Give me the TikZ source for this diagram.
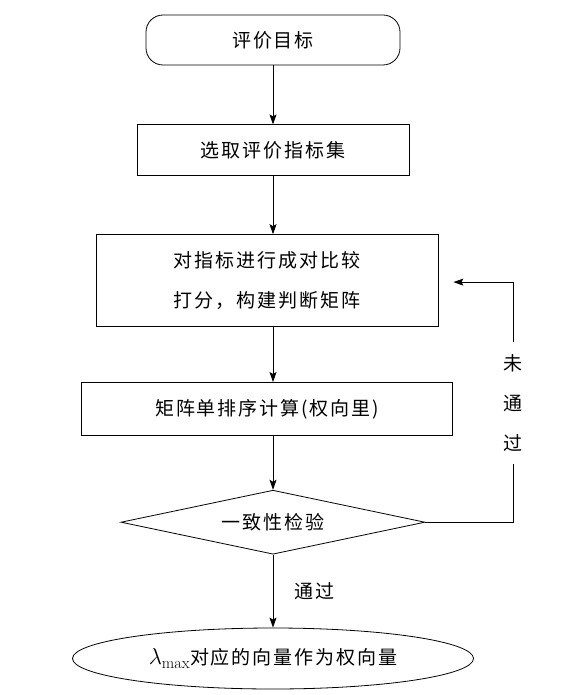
\RequirePackage{fix-cm}
\documentclass[tikz,border=0pt]{standalone}
\usepackage{fontspec}
\usepackage{tikz}
\usetikzlibrary{shapes.geometric, arrows.meta, positioning, calc}
\newfontfamily\cjk[LetterSpace=10]{Noto Sans CJK SC}

\begin{document}
\begin{tikzpicture}[
  font=\cjk\fontsize{19pt}{40pt}\selectfont, node distance=57pt,
  st/.style={draw, line width=0.8pt, minimum height=51pt, inner sep=0pt, align=center},
  start/.style={st, rounded corners=17pt, minimum width=254pt, minimum height=50pt},
  cond/.style={st, diamond, aspect=4.75, minimum width=304pt, minimum height=64pt},
  stop/.style={st, ellipse, minimum width=401pt, minimum height=61pt},
  arr/.style={-{Stealth[length=10pt, width=7pt, inset=2pt]}, line width=0.8pt},
  line/.style={line width=0.8pt},
]
\useasboundingbox (0,0) rectangle (566pt,-695pt);

\node[start] (goal) at (273pt,-40pt) {评价目标};
\node[st, minimum width=272pt, below=59pt of goal] (index) {选取评价指标集};
\node[st, minimum width=342pt, minimum height=92pt, below=58pt of index, xshift=-6pt] (judge)
  {对指标进行成对比较\\打分，构建判断矩阵};
\node[st, minimum width=371pt, minimum height=53pt, below=55pt of judge] (rank) {矩阵单排序计算(权向里)};
\node[cond, below=54pt of rank, xshift=6pt] (check) {一致性检验};
\node[stop, below=73pt of check] (result)
  {{\fontsize{23pt}{23pt}\selectfont$\lambda_{\max}$}对应的向量作为权向量};

% feedback when the check fails
\node[inner sep=0pt, minimum height=122pt, align=center] (nopass) at ($(check.east)+(88pt,119pt)$) {未\\通\\过};
\coordinate (fbtip) at ($(judge.east)+(15pt,-1.5pt)$);

\draw[arr] (goal) -- (index);
\draw[arr] (goal |- index.south) -- (goal |- judge.north);
\draw[arr] (goal |- judge.south) -- (goal |- rank.north);
\draw[arr] (goal |- rank.south) -- (check);
\draw[arr] (check) -- node[right=18pt, midway]{通过} (result);
\draw[line] (check.east) -| (nopass.south);
\draw[arr] (nopass.north) |- (fbtip);
\end{tikzpicture}
\end{document}
